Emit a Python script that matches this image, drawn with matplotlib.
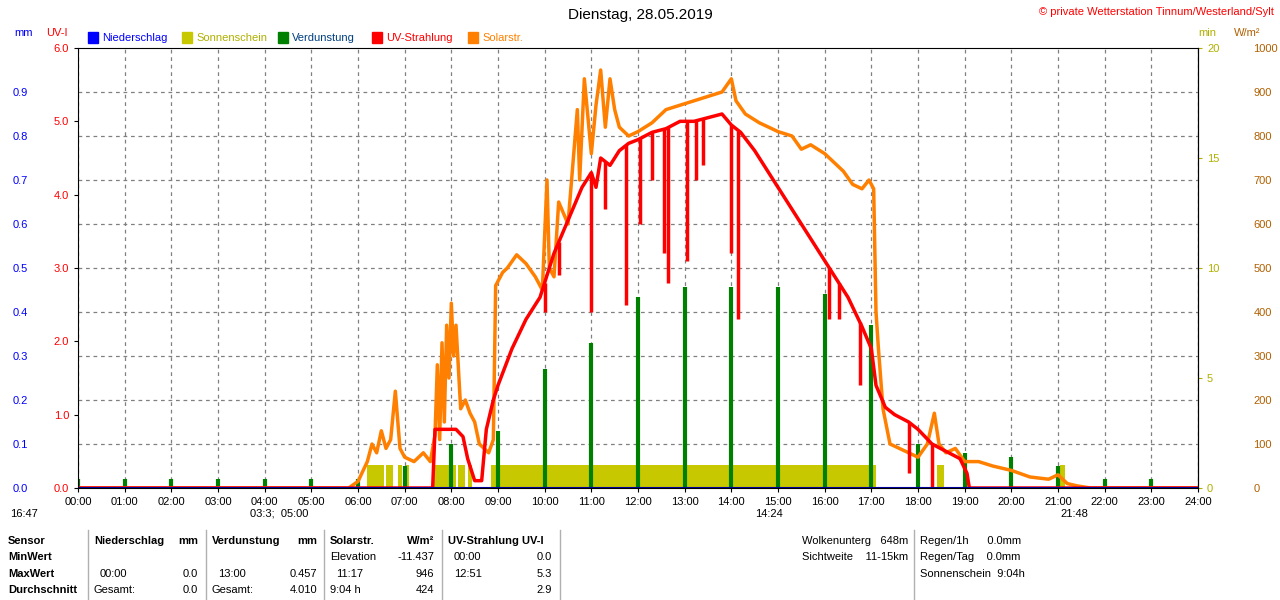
import matplotlib.pyplot as plt
import numpy as np

# Solarstrahlung W/m2 (Stunde, Wert)
sol_t = [0, 5.8, 6.0, 6.2, 6.3, 6.4, 6.5, 6.6, 6.7, 6.8, 6.9, 7.0, 7.2, 7.4, 7.55, 7.65, 7.7, 7.75, 7.8, 7.85, 7.9, 7.95,
         8.0, 8.05, 8.1, 8.2, 8.3, 8.4, 8.5, 8.6, 8.8, 8.9, 8.95, 9.1, 9.2, 9.4, 9.6, 9.8, 9.95, 10.05, 10.1, 10.2,
         10.3, 10.5, 10.7, 10.75, 10.85, 11.0, 11.1, 11.2, 11.3, 11.4, 11.5, 11.6, 11.8, 12.0, 12.3, 12.6, 12.9,
         13.2, 13.5, 13.8, 14.0, 14.1, 14.3, 14.6, 15.0, 15.3, 15.5, 15.7, 16.0, 16.2, 16.4, 16.6, 16.8, 16.95,
         17.05, 17.1, 17.15, 17.25, 17.4, 17.6, 17.8, 18.0, 18.2, 18.35, 18.45, 18.6, 18.8, 19.0, 19.3, 19.6,
         20.0, 20.4, 20.8, 21.0, 21.2, 21.4, 21.7, 24]
sol_v = [0, 0, 15, 60, 100, 80, 130, 90, 110, 220, 90, 70, 60, 80, 60, 120, 280, 110, 330, 150, 370, 250,
         420, 300, 370, 180, 200, 170, 150, 100, 80, 110, 460, 490, 500, 530, 510, 480, 450, 700, 500, 480,
         650, 600, 860, 700, 930, 760, 870, 950, 820, 930, 860, 820, 800, 810, 830, 860, 870,
         880, 890, 900, 930, 880, 850, 830, 810, 800, 770, 780, 760, 740, 720, 690, 680, 700,
         680, 400, 320, 180, 100, 90, 80, 70, 100, 170, 100, 80, 90, 60, 60, 50,
         40, 25, 20, 30, 10, 5, 0, 0]

# UV-Index
uv_t = [0, 7.6, 7.65, 7.8, 8.1, 8.25, 8.35, 8.5, 8.65, 8.75, 8.9, 9.0, 9.3, 9.6, 9.8, 9.9, 10.0, 10.2,
        10.4, 10.6, 10.8, 11.0, 11.1, 11.2, 11.4, 11.6, 11.8, 12.0, 12.3, 12.6, 12.9, 13.2, 13.5, 13.8, 14.0,
        14.2, 14.5, 14.8, 15.0, 15.3, 15.6, 15.9, 16.2, 16.5, 16.8, 17.0, 17.1, 17.3, 17.5, 17.8, 18.0, 18.3,
        18.6, 18.9, 19.05, 19.1, 24]
uv_v = [0, 0, 0.8, 0.8, 0.8, 0.7, 0.4, 0.1, 0.1, 0.8, 1.2, 1.4, 1.9, 2.3, 2.5, 2.6, 2.8, 3.2,
        3.5, 3.8, 4.1, 4.3, 4.1, 4.5, 4.4, 4.6, 4.7, 4.75, 4.85, 4.9, 5.0, 5.0, 5.05, 5.1, 4.95,
        4.85, 4.6, 4.3, 4.1, 3.8, 3.5, 3.2, 2.9, 2.6, 2.2, 1.9, 1.4, 1.1, 1.0, 0.9, 0.8, 0.6,
        0.5, 0.4, 0.2, 0, 0]
# Einbrüche UV (Stunde, Minimum)
uv_dip_t = [10.0, 10.3, 11.0, 11.3, 11.75, 12.05, 12.3, 12.55, 12.65, 13.05, 13.25, 13.4, 14.0, 14.15, 16.1, 16.3, 16.75, 17.8, 18.3]
uv_dip_v = [2.4, 2.9, 2.4, 3.8, 2.5, 3.6, 4.2, 3.2, 2.8, 3.1, 4.2, 4.4, 3.2, 2.3, 2.3, 2.3, 1.4, 0.2, 0.0]

# Sonnenschein (Intervalle)
sun_start = [6.2, 6.6, 6.85, 7.0, 7.6, 8.15, 8.35, 8.85, 18.4, 21.05]
sun_end = [6.55, 6.75, 6.95, 7.1, 8.1, 8.3, 8.45, 17.1, 18.55, 21.15]

# Verdunstung mm (stündlich)
evap_h = list(range(24))
evap_v = [0.02, 0.02, 0.02, 0.02, 0.02, 0.02, 0.02, 0.05, 0.1, 0.13, 0.27, 0.33, 0.435, 0.457,
          0.457, 0.457, 0.44, 0.37, 0.1, 0.08, 0.07, 0.05, 0.02, 0.02]

plt.rcParams['font.family'] = ['Liberation Sans', 'DejaVu Sans']
plt.rcParams['font.size'] = 8
fig = plt.figure(figsize=(12.8, 6), dpi=100)
ax = fig.add_axes([78/1280, 112/600, 1120/1280, 440/600])
ax.set_xlim(0, 24)
ax.set_ylim(0, 6)

for s, e in zip(sun_start, sun_end):
    ax.fill_between([s, e], 0, 6 * 1.05 / 20, color='#c8c800', lw=0)
ax.vlines(evap_h, 0, np.array(evap_v) * 6, color='#008000', lw=3)
ax.plot(sol_t, np.array(sol_v) * 6 / 1000, color='#ff8000', lw=2.5)
ax.plot(uv_t, uv_v, color='#ff0000', lw=2.5)
uv_interp = np.interp(uv_dip_t, uv_t, uv_v)
ax.vlines(uv_dip_t, uv_dip_v, uv_interp, color='#ff0000', lw=2.5)
ax.axhline(0, color='#0000a0', lw=1.5)

ax.set_xticks(range(25))
ax.set_xticklabels(['%02d:00' % h for h in range(25)])
ax.set_yticks([0, 1, 2, 3, 4, 5, 6])
ax.set_yticklabels(['0.0', '1.0', '2.0', '3.0', '4.0', '5.0', '6.0'], color='red')
ax.grid(True, axis='x', color='gray', ls=(0, (3, 3)), lw=0.9)
# Gitterlinien an der mm-Achse
for m in np.arange(0.1, 1.0, 0.1):
    ax.axhline(m * 6, color='gray', ls=(0, (3, 3)), lw=0.9, zorder=0.5)
ax.tick_params(length=3)

mm_ax = ax.secondary_yaxis(-0.04, functions=(lambda u: u / 6.0, lambda m: m * 6.0))
mm_ax.set_yticks(np.round(np.arange(0, 1.0, 0.1), 1))
mm_ax.tick_params(colors='blue', length=0)
mm_ax.spines['left'].set_visible(False)
min_ax = ax.secondary_yaxis(1.0, functions=(lambda u: u * 20 / 6, lambda m: m * 6 / 20))
min_ax.set_yticks([0, 5, 10, 15, 20])
min_ax.tick_params(colors='#b0b000', length=3)
w_ax = ax.secondary_yaxis(1.045, functions=(lambda u: u * 1000 / 6, lambda w: w * 6 / 1000))
w_ax.set_yticks(range(0, 1001, 100))
w_ax.tick_params(colors='#b06000', length=0)
w_ax.spines['right'].set_visible(False)

fig.text(0.5, 0.975, 'Dienstag, 28.05.2019', ha='center', va='center', fontsize=11)
fig.text(0.995, 0.98, '© private Wetterstation Tinnum/Westerland/Sylt', ha='right', va='center', color='red', fontsize=8)
fig.text(14 / 1280, 1 - 33 / 600, 'mm', color='blue', va='center')
fig.text(46 / 1280, 1 - 33 / 600, 'UV-I', color='red', va='center')
fig.text(1198 / 1280, 1 - 33 / 600, 'min', color='#b0b000', va='center')
fig.text(1234 / 1280, 1 - 33 / 600, 'W/m²', color='#b06000', va='center')
legend = [('Niederschlag', 'blue', 'blue'), ('Sonnenschein', '#c8c800', '#b0b000'),
          ('Verdunstung', '#008000', '#004080'), ('UV-Strahlung', 'red', 'red'), ('Solarstr.', '#ff8000', '#ff8000')]
lx = [88, 182, 278, 372, 468]
for x, (name, c, tc) in zip(lx, legend):
    fig.patches.append(plt.Rectangle((x / 1280, 1 - 43 / 600), 10 / 1280, 11 / 600, color=c, transform=fig.transFigure))
    fig.text((x + 14) / 1280, 1 - 38 / 600, name, color=tc, va='center')

fig.text(10 / 1280, 1 - 514 / 600, '16:47', va='center')
fig.text(250 / 1280, 1 - 514 / 600, '03:3;  05:00', va='center')
fig.text(755 / 1280, 1 - 514 / 600, '14:24', va='center')
fig.text(1060 / 1280, 1 - 514 / 600, '21:48', va='center')

def t(x, y, s, **kw):
    fig.text(x / 1280, 1 - y / 600, s, va='center', **kw)
for y, s in zip([541, 557, 574, 590], ['Sensor', 'MinWert', 'MaxWert', 'Durchschnitt']):
    t(8, y, s, weight='bold')
t(94, 541, 'Niederschlag', weight='bold'); t(198, 541, 'mm', weight='bold', ha='right')
t(100, 574, '00:00'); t(198, 574, '0.0', ha='right')
t(94, 590, 'Gesamt:'); t(198, 590, '0.0', ha='right')
t(212, 541, 'Verdunstung', weight='bold'); t(317, 541, 'mm', weight='bold', ha='right')
t(218, 574, '13:00'); t(317, 574, '0.457', ha='right')
t(212, 590, 'Gesamt:'); t(317, 590, '4.010', ha='right')
t(330, 541, 'Solarstr.', weight='bold'); t(434, 541, 'W/m²', weight='bold', ha='right')
t(330, 557, 'Elevation'); t(434, 557, '-11.437', ha='right')
t(336, 574, '11:17'); t(434, 574, '946', ha='right')
t(330, 590, '9:04 h'); t(434, 590, '424', ha='right')
t(448, 541, 'UV-Strahlung UV-I', weight='bold')
t(454, 557, '00:00'); t(552, 557, '0.0', ha='right')
t(454, 574, '12:51'); t(552, 574, '5.3', ha='right')
t(552, 590, '2.9', ha='right')
for x in [88, 206, 324, 442, 560, 914]:
    fig.add_artist(plt.Line2D([x / 1280, x / 1280], [0, 1 - 530 / 600], color='#b0b0b0', lw=1))
t(802, 541, 'Wolkenunterg   648m'); t(802, 557, 'Sichtweite    11-15km')
t(920, 541, 'Regen/1h      0.0mm'); t(920, 557, 'Regen/Tag    0.0mm'); t(920, 574, 'Sonnenschein  9:04h')

fig.savefig('out.png', dpi=100)
